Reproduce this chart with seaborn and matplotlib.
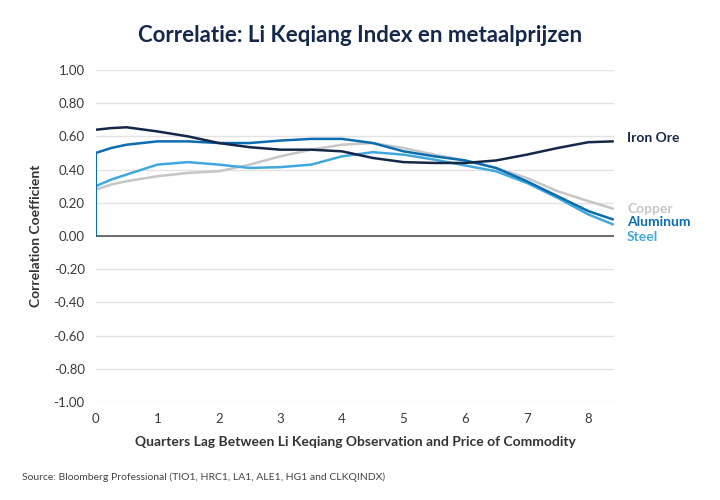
import pandas as pd
import matplotlib.pyplot as plt
import matplotlib.transforms as mtransforms
import seaborn as sns

# values
lag = [0, 0.25, 0.5, 1, 1.5, 2, 2.5, 3, 3.5, 4, 4.5, 5, 5.5, 6, 6.5, 7, 7.5, 8, 8.4]
iron_ore = [0.64, 0.65, 0.655, 0.63, 0.60, 0.56, 0.535, 0.52, 0.52, 0.51, 0.47, 0.445, 0.44, 0.44, 0.455, 0.49, 0.53, 0.565, 0.57]
aluminum = [0.50, 0.53, 0.55, 0.57, 0.57, 0.56, 0.56, 0.575, 0.585, 0.585, 0.56, 0.51, 0.48, 0.455, 0.41, 0.33, 0.24, 0.15, 0.10]
steel = [0.30, 0.34, 0.37, 0.43, 0.445, 0.43, 0.41, 0.415, 0.43, 0.48, 0.505, 0.49, 0.46, 0.425, 0.39, 0.32, 0.23, 0.13, 0.07]
copper = [0.28, 0.31, 0.33, 0.36, 0.38, 0.39, 0.43, 0.48, 0.52, 0.55, 0.56, 0.53, 0.49, 0.455, 0.41, 0.35, 0.27, 0.21, 0.165]

# aluminum line starts at zero on the y axis
aluminum_lag = [0] + lag
aluminum_vals = [0.0] + aluminum

series = {
    "Copper": (lag, copper, "#c6c6c6", 0.165),
    "Steel": (lag, steel, "#41a8de", -0.005),
    "Aluminum": (aluminum_lag, aluminum_vals, "#0b6db0", 0.085),
    "Iron Ore": (lag, iron_ore, "#15284a", 0.59),
}

sns.set_style("white")
plt.rcParams["font.family"] = ["Lato", "DejaVu Sans"]

fig = plt.figure(figsize=(7.2, 5), dpi=100)
ax = fig.add_axes([0.133, 0.196, 0.72, 0.664])

for name, (xs, ys, color, label_y) in series.items():
    df = pd.DataFrame({"lag": xs, "corr": ys})
    sns.lineplot(data=df, x="lag", y="corr", color=color, linewidth=1.8,
                 sort=False, estimator=None, ax=ax)
    trans = mtransforms.blended_transform_factory(ax.transAxes, ax.transData)
    ax.text(1.025, label_y, name, transform=trans, color=color,
            fontsize=10, fontweight="bold", va="center", ha="left")

ax.set_xlim(0, 8.42)
ax.set_ylim(-1.0, 1.0)
ax.set_yticks([i / 10 for i in range(-10, 11, 2)])
ax.set_yticklabels([f"{i / 10:.2f}" for i in range(-10, 11, 2)])
ax.set_xticks(range(0, 9))
ax.yaxis.grid(True, color="#e3e3e3", linewidth=1)
ax.axhline(0, color="#555555", linewidth=1.2, zorder=1)
for s in ax.spines.values():
    s.set_visible(False)
ax.tick_params(axis="both", length=0, labelsize=9.5, labelcolor="#3a3a3a", pad=8)

ax.set_xlabel("Quarters Lag Between Li Keqiang Observation and Price of Commodity",
              fontsize=10, fontweight="bold", color="#333333", labelpad=8)
ax.set_ylabel("Correlation Coefficient", fontsize=10, fontweight="bold",
              color="#333333", labelpad=8)

fig.text(0.5, 0.93, "Correlatie: Li Keqiang Index en metaalprijzen",
         ha="center", va="center", fontsize=16, fontweight="bold", color="#15284a")
fig.text(0.03, 0.045, "Source: Bloomberg Professional (TIO1, HRC1, LA1, ALE1, HG1 and CLKQINDX)",
         ha="left", va="center", fontsize=7.5, color="#444444")

fig.savefig("out.png", dpi=100)
